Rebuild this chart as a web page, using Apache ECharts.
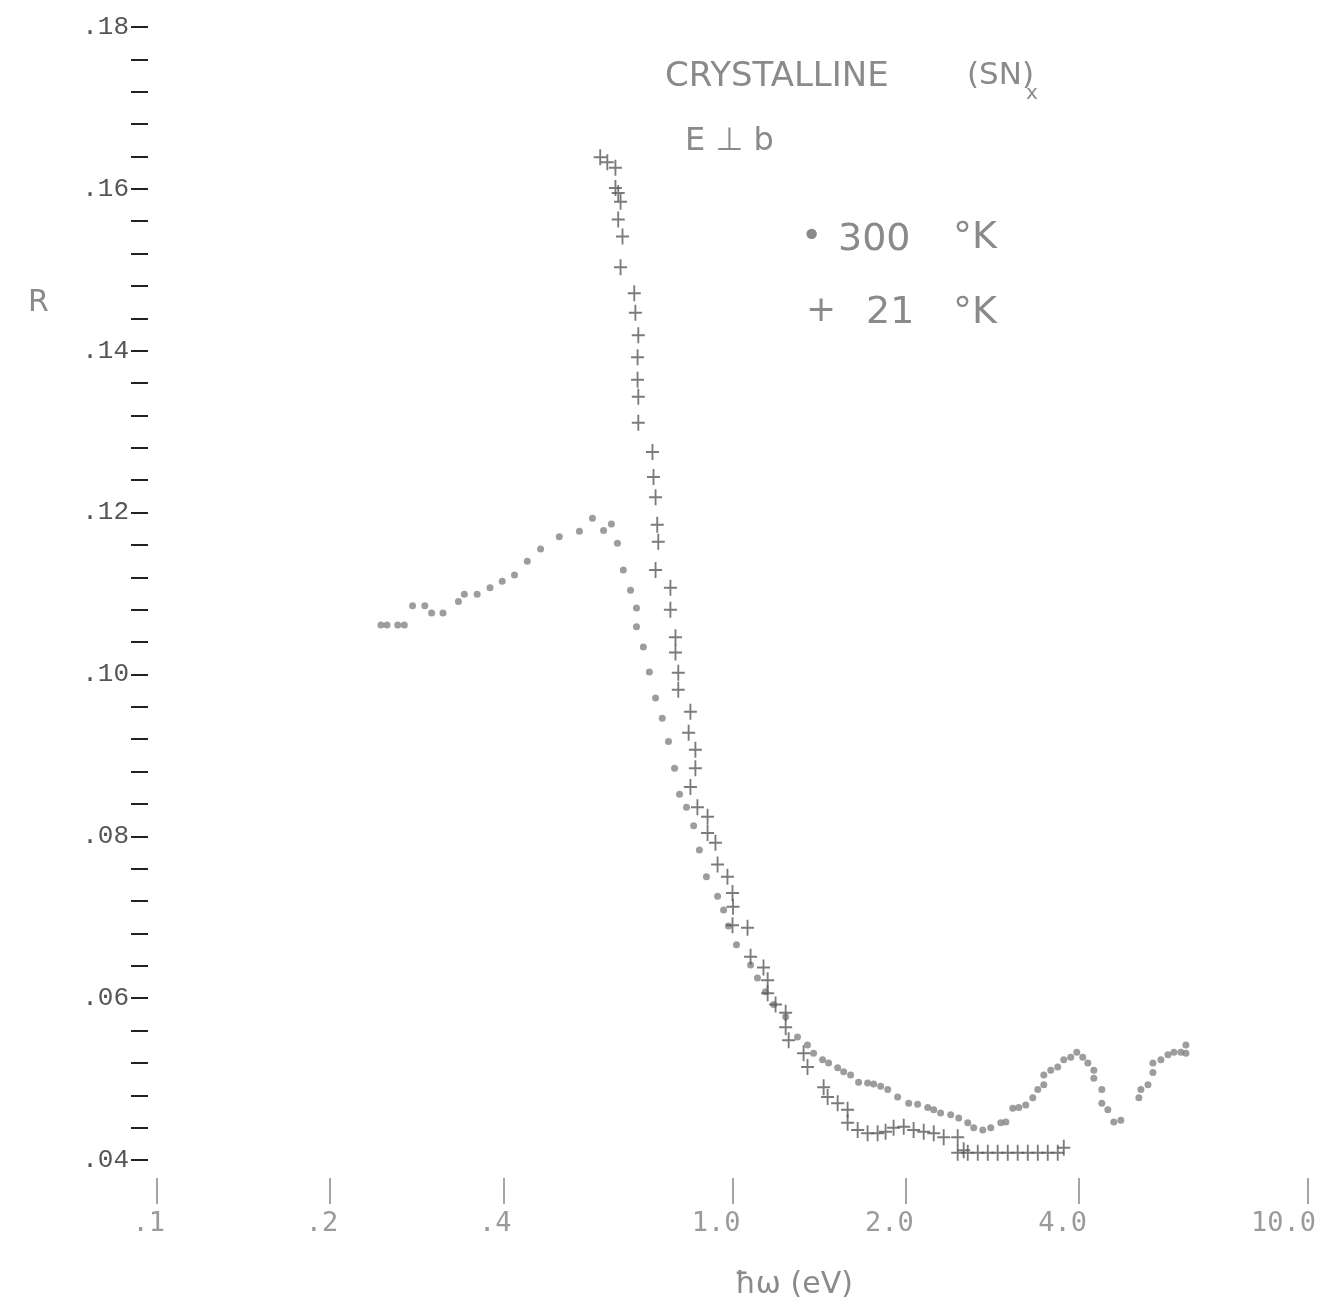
<!DOCTYPE html>
<html>
<head>
<meta charset="utf-8">
<title>Crystalline (SN)x reflectance</title>
<script src="https://cdn.jsdelivr.net/npm/echarts@6/dist/echarts.min.js"></script>
<style>
  body { margin: 0; background: #fff; }
  #main { width: 1328px; height: 1316px; }
</style>
</head>
<body>
<div id="main"></div>
<script>
// photon energy (eV) and reflectance, 300 K (dots)
var hw300 = [0.245, 0.251, 0.262, 0.269, 0.278, 0.292, 0.300, 0.314, 0.334, 0.342,
  0.360, 0.379, 0.398, 0.418, 0.440, 0.464, 0.500, 0.542, 0.571, 0.597,
  0.616, 0.631, 0.646, 0.665, 0.681, 0.681, 0.700, 0.717, 0.735, 0.755,
  0.774, 0.793, 0.809, 0.832, 0.856, 0.876, 0.901, 0.942, 0.965, 0.984,
  1.016, 1.075, 1.105, 1.141, 1.179, 1.237, 1.297, 1.350, 1.383, 1.434,
  1.469, 1.523, 1.560, 1.604, 1.656, 1.717, 1.759, 1.809, 1.861, 1.936,
  2.024, 2.097, 2.184, 2.237, 2.299, 2.394, 2.472, 2.563, 2.625, 2.722,
  2.810, 2.925, 2.985, 3.069, 3.144, 3.233, 3.325, 3.392, 3.475, 3.475,
  3.573, 3.674, 3.764, 3.870, 3.965, 4.061, 4.144, 4.245, 4.245, 4.383,
  4.383, 4.489, 4.598, 4.729, 5.083, 5.124, 5.271, 5.377, 5.377, 5.552,
  5.710, 5.848, 6.013, 6.135, 6.135];
var r300 = [0.1061, 0.1061, 0.1061, 0.1061, 0.1085, 0.1085, 0.1076, 0.1076, 0.1090, 0.1099,
  0.1099, 0.1107, 0.1115, 0.1123, 0.1140, 0.1155, 0.1170, 0.1177, 0.1193, 0.1178,
  0.1186, 0.1162, 0.1129, 0.1104, 0.1082, 0.1059, 0.1034, 0.1003, 0.0971, 0.0946,
  0.0917, 0.0884, 0.0852, 0.0836, 0.0813, 0.0783, 0.0750, 0.0726, 0.0709, 0.0689,
  0.0666, 0.0641, 0.0625, 0.0608, 0.0592, 0.0577, 0.0552, 0.0542, 0.0532, 0.0524,
  0.0520, 0.0514, 0.0509, 0.0505, 0.0496, 0.0495, 0.0494, 0.0491, 0.0487, 0.0478,
  0.0470, 0.0469, 0.0465, 0.0462, 0.0458, 0.0456, 0.0452, 0.0446, 0.0440, 0.0437,
  0.0440, 0.0446, 0.0447, 0.0464, 0.0465, 0.0468, 0.0477, 0.0487, 0.0493, 0.0505,
  0.0511, 0.0515, 0.0524, 0.0527, 0.0533, 0.0527, 0.0520, 0.0511, 0.0501, 0.0487,
  0.0470, 0.0462, 0.0447, 0.0449, 0.0477, 0.0487, 0.0493, 0.0508, 0.0520, 0.0524,
  0.0530, 0.0533, 0.0533, 0.0542, 0.0532];

// 21 K (plus marks)
var hw21 = [0.589, 0.606, 0.626, 0.626, 0.633, 0.639, 0.633, 0.644, 0.639, 0.675,
  0.678, 0.686, 0.684, 0.684, 0.686, 0.686, 0.726, 0.729, 0.735, 0.740,
  0.743, 0.735, 0.780, 0.780, 0.796, 0.796, 0.805, 0.805, 0.845, 0.839,
  0.862, 0.862, 0.845, 0.869, 0.905, 0.905, 0.934, 0.942, 0.980, 1.000,
  1.002, 1.000, 1.062, 1.075, 1.132, 1.151, 1.151, 1.188, 1.237, 1.237,
  1.252, 1.329, 1.350, 1.440, 1.463, 1.523, 1.585, 1.585, 1.650, 1.717,
  1.787, 1.845, 1.905, 1.984, 2.064, 2.149, 2.237, 2.328, 2.462, 2.522,
  2.462, 2.563, 2.668, 2.777, 2.889, 3.008, 3.130, 3.259, 3.392, 3.530,
  3.674, 3.764];
var r21 = [0.1639, 0.1633, 0.1626, 0.1601, 0.1595, 0.1584, 0.1562, 0.1541, 0.1503, 0.1471,
  0.1447, 0.1419, 0.1392, 0.1364, 0.1343, 0.1311, 0.1275, 0.1244, 0.1219, 0.1185,
  0.1164, 0.1129, 0.1107, 0.1080, 0.1046, 0.1027, 0.1002, 0.0981, 0.0954, 0.0928,
  0.0907, 0.0884, 0.0861, 0.0836, 0.0824, 0.0804, 0.0792, 0.0765, 0.0750, 0.0730,
  0.0713, 0.0690, 0.0687, 0.0651, 0.0638, 0.0622, 0.0606, 0.0592, 0.0582, 0.0564,
  0.0548, 0.0532, 0.0515, 0.0490, 0.0478, 0.0470, 0.0462, 0.0446, 0.0437, 0.0433,
  0.0433, 0.0435, 0.0440, 0.0441, 0.0437, 0.0435, 0.0433, 0.0428, 0.0428, 0.0412,
  0.0409, 0.0409, 0.0409, 0.0409, 0.0409, 0.0409, 0.0409, 0.0409, 0.0409, 0.0409,
  0.0409, 0.0415];

var xTicks = [0.1, 0.2, 0.4, 1.0, 2.0, 4.0, 10.0];

function pairs(xs, ys) {
  return xs.map(function (x, i) { return [x, ys[i]]; });
}

var plusPath = 'path://M6,0H8V7H14V9H8V16H6V9H0V7H6Z';
var hand = '"DejaVu Sans", sans-serif';
var ink = '#8a8a8a';

function note(x, y, text, size) {
  return { type: 'text', left: x, top: y, style: { text: text, font: size + 'px ' + hand, fill: ink } };
}

var chart = echarts.init(document.getElementById('main'));
chart.setOption({
  animation: false,
  backgroundColor: '#fff',
  grid: { left: 157, right: 20, top: 27, bottom: 156, outerBoundsMode: 'none', containLabel: false },
  xAxis: {
    type: 'log',
    logBase: 10,
    min: 0.1,
    max: 10,
    offset: 18,
    axisLine: { show: false },
    splitLine: { show: false },
    minorTick: { show: false },
    axisTick: {
      show: true,
      customValues: xTicks,
      length: 26,
      lineStyle: { color: '#888', width: 1.5 }
    },
    axisLabel: {
      customValues: xTicks,
      margin: 32,
      fontFamily: '"DejaVu Sans Mono", monospace',
      fontSize: 27,
      color: '#9a9a9a',
      formatter: function (v) {
        v = Math.round(v * 10) / 10;
        var s = v < 1 ? String(v).replace(/^0/, '') : v.toFixed(1);
        // typewriter labels sit with their last character under the tick
        return s + new Array(s.length).join(' ');
      }
    }
  },
  yAxis: {
    type: 'value',
    min: 0.04,
    max: 0.18,
    interval: 0.02,
    offset: 9,
    axisLine: { show: false },
    splitLine: { show: false },
    axisTick: { show: true, length: 17, lineStyle: { color: '#222', width: 2 } },
    minorTick: { show: true, splitNumber: 5, length: 17, lineStyle: { color: '#222', width: 2 } },
    axisLabel: {
      margin: 19,
      fontFamily: '"Liberation Mono", monospace',
      fontSize: 26,
      color: '#555',
      formatter: function (v) { return v.toFixed(2).replace(/^0/, ''); }
    }
  },
  series: [
    {
      name: '300 °K',
      type: 'scatter',
      symbol: 'circle',
      symbolSize: 7,
      itemStyle: { color: '#858585' },
      silent: true,
      data: pairs(hw300, r300)
    },
    {
      name: '21 °K',
      type: 'scatter',
      symbol: plusPath,
      symbolSize: [13, 16],
      itemStyle: { color: '#5a5a5a' },
      silent: true,
      data: pairs(hw21, r21)
    }
  ],
  graphic: [
    note(28, 288, 'R', 30),
    note(665, 60, 'CRYSTALLINE', 34),
    note(967, 60, '(SN)', 31),
    note(1026, 84, 'x', 20),
    note(685, 126, 'E ⊥ b', 32),
    note(801, 220, '•', 36),
    note(838, 221, '300', 38),
    note(953, 219, '°K', 38),
    note(806, 294, '+', 36),
    note(866, 294, '21', 38),
    note(953, 294, '°K', 38),
    note(735, 1270, 'ħω (eV)', 30)
  ]
});
</script>
</body>
</html>
